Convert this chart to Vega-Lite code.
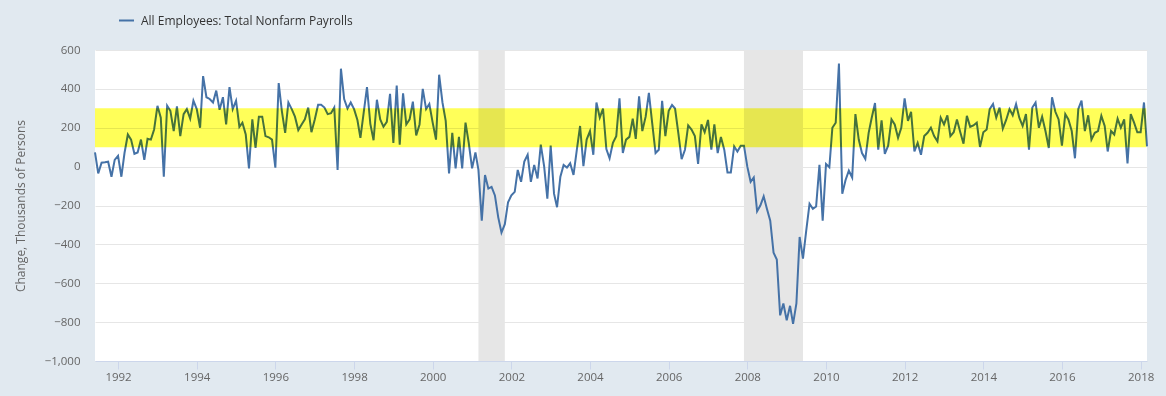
{
  "$schema": "https://vega.github.io/schema/vega-lite/v6.json",
  "autosize": "none",
  "width": 1052,
  "height": 311,
  "padding": {"left": 95, "top": 50, "right": 19, "bottom": 35},
  "background": "#e1e9f0",
  "view": {"fill": "#ffffff", "stroke": null},
  "config": {
    "font": "Open Sans",
    "axis": {"labelOverlap": false, "labelFont": "Open Sans", "labelColor": "#666666", "labelFontSize": 11.5, "titleFont": "Open Sans", "titleColor": "#666666", "titleFontSize": 12, "titleFontWeight": "normal"},
    "axisY": {"grid": true, "gridColor": "#e6e6e6", "domain": false, "ticks": false, "labelPadding": 15, "titlePadding": 17, "labelOverlap": false},
    "axisX": {"grid": false, "domainColor": "#ccd6eb", "tickColor": "#ccd6eb", "tickSize": 8, "labelPadding": 2}
  },
  "datasets": {
    "payrolls": [
      {"date":"1991-06-01","change":73},{"date":"1991-07-01","change":-35},{"date":"1991-08-01","change":20},{"date":"1991-09-01","change":22},{"date":"1991-10-01","change":25},{"date":"1991-11-01","change":-52},{"date":"1991-12-01","change":35},
      {"date":"1992-01-01","change":56},{"date":"1992-02-01","change":-52},{"date":"1992-03-01","change":70},{"date":"1992-04-01","change":165},{"date":"1992-05-01","change":139},{"date":"1992-06-01","change":66},{"date":"1992-07-01","change":73},{"date":"1992-08-01","change":139},{"date":"1992-09-01","change":35},{"date":"1992-10-01","change":143},{"date":"1992-11-01","change":139},{"date":"1992-12-01","change":191},
      {"date":"1993-01-01","change":313},{"date":"1993-02-01","change":252},{"date":"1993-03-01","change":-52},{"date":"1993-04-01","change":313},{"date":"1993-05-01","change":287},{"date":"1993-06-01","change":183},{"date":"1993-07-01","change":310},{"date":"1993-08-01","change":157},{"date":"1993-09-01","change":270},{"date":"1993-10-01","change":296},{"date":"1993-11-01","change":247},{"date":"1993-12-01","change":339},
      {"date":"1994-01-01","change":296},{"date":"1994-02-01","change":200},{"date":"1994-03-01","change":466},{"date":"1994-04-01","change":357},{"date":"1994-05-01","change":348},{"date":"1994-06-01","change":330},{"date":"1994-07-01","change":391},{"date":"1994-08-01","change":292},{"date":"1994-09-01","change":357},{"date":"1994-10-01","change":217},{"date":"1994-11-01","change":409},{"date":"1994-12-01","change":296},
      {"date":"1995-01-01","change":339},{"date":"1995-02-01","change":205},{"date":"1995-03-01","change":226},{"date":"1995-04-01","change":165},{"date":"1995-05-01","change":-9},{"date":"1995-06-01","change":243},{"date":"1995-07-01","change":96},{"date":"1995-08-01","change":257},{"date":"1995-09-01","change":257},{"date":"1995-10-01","change":157},{"date":"1995-11-01","change":151},{"date":"1995-12-01","change":139},
      {"date":"1996-01-01","change":-5},{"date":"1996-02-01","change":430},{"date":"1996-03-01","change":287},{"date":"1996-04-01","change":174},{"date":"1996-05-01","change":330},{"date":"1996-06-01","change":296},{"date":"1996-07-01","change":257},{"date":"1996-08-01","change":188},{"date":"1996-09-01","change":217},{"date":"1996-10-01","change":243},{"date":"1996-11-01","change":304},{"date":"1996-12-01","change":177},
      {"date":"1997-01-01","change":243},{"date":"1997-02-01","change":318},{"date":"1997-03-01","change":318},{"date":"1997-04-01","change":304},{"date":"1997-05-01","change":270},{"date":"1997-06-01","change":275},{"date":"1997-07-01","change":304},{"date":"1997-08-01","change":-17},{"date":"1997-09-01","change":504},{"date":"1997-10-01","change":348},{"date":"1997-11-01","change":299},{"date":"1997-12-01","change":330},
      {"date":"1998-01-01","change":296},{"date":"1998-02-01","change":240},{"date":"1998-03-01","change":148},{"date":"1998-04-01","change":280},{"date":"1998-05-01","change":409},{"date":"1998-06-01","change":220},{"date":"1998-07-01","change":136},{"date":"1998-08-01","change":344},{"date":"1998-09-01","change":243},{"date":"1998-10-01","change":205},{"date":"1998-11-01","change":230},{"date":"1998-12-01","change":374},
      {"date":"1999-01-01","change":122},{"date":"1999-02-01","change":417},{"date":"1999-03-01","change":113},{"date":"1999-04-01","change":377},{"date":"1999-05-01","change":217},{"date":"1999-06-01","change":243},{"date":"1999-07-01","change":334},{"date":"1999-08-01","change":160},{"date":"1999-09-01","change":217},{"date":"1999-10-01","change":400},{"date":"1999-11-01","change":296},{"date":"1999-12-01","change":322},
      {"date":"2000-01-01","change":226},{"date":"2000-02-01","change":139},{"date":"2000-03-01","change":473},{"date":"2000-04-01","change":330},{"date":"2000-05-01","change":235},{"date":"2000-06-01","change":-35},{"date":"2000-07-01","change":174},{"date":"2000-08-01","change":-9},{"date":"2000-09-01","change":153},{"date":"2000-10-01","change":-9},{"date":"2000-11-01","change":226},{"date":"2000-12-01","change":122},
      {"date":"2001-01-01","change":-9},{"date":"2001-02-01","change":73},{"date":"2001-03-01","change":-17},{"date":"2001-04-01","change":-278},{"date":"2001-05-01","change":-43},{"date":"2001-06-01","change":-113},{"date":"2001-07-01","change":-104},{"date":"2001-08-01","change":-148},{"date":"2001-09-01","change":-261},{"date":"2001-10-01","change":-339},{"date":"2001-11-01","change":-296},{"date":"2001-12-01","change":-183},
      {"date":"2002-01-01","change":-148},{"date":"2002-02-01","change":-130},{"date":"2002-03-01","change":-17},{"date":"2002-04-01","change":-78},{"date":"2002-05-01","change":26},{"date":"2002-06-01","change":61},{"date":"2002-07-01","change":-78},{"date":"2002-08-01","change":9},{"date":"2002-09-01","change":-61},{"date":"2002-10-01","change":113},{"date":"2002-11-01","change":3},{"date":"2002-12-01","change":-165},
      {"date":"2003-01-01","change":108},{"date":"2003-02-01","change":-139},{"date":"2003-03-01","change":-209},{"date":"2003-04-01","change":-52},{"date":"2003-05-01","change":9},{"date":"2003-06-01","change":-5},{"date":"2003-07-01","change":17},{"date":"2003-08-01","change":-43},{"date":"2003-09-01","change":87},{"date":"2003-10-01","change":209},{"date":"2003-11-01","change":3},{"date":"2003-12-01","change":139},
      {"date":"2004-01-01","change":183},{"date":"2004-02-01","change":61},{"date":"2004-03-01","change":330},{"date":"2004-04-01","change":252},{"date":"2004-05-01","change":299},{"date":"2004-06-01","change":90},{"date":"2004-07-01","change":43},{"date":"2004-08-01","change":122},{"date":"2004-09-01","change":157},{"date":"2004-10-01","change":351},{"date":"2004-11-01","change":70},{"date":"2004-12-01","change":139},
      {"date":"2005-01-01","change":153},{"date":"2005-02-01","change":247},{"date":"2005-03-01","change":143},{"date":"2005-04-01","change":362},{"date":"2005-05-01","change":183},{"date":"2005-06-01","change":257},{"date":"2005-07-01","change":379},{"date":"2005-08-01","change":223},{"date":"2005-09-01","change":70},{"date":"2005-10-01","change":87},{"date":"2005-11-01","change":339},{"date":"2005-12-01","change":157},
      {"date":"2006-01-01","change":287},{"date":"2006-02-01","change":317},{"date":"2006-03-01","change":299},{"date":"2006-04-01","change":170},{"date":"2006-05-01","change":38},{"date":"2006-06-01","change":87},{"date":"2006-07-01","change":212},{"date":"2006-08-01","change":191},{"date":"2006-09-01","change":157},{"date":"2006-10-01","change":14},{"date":"2006-11-01","change":217},{"date":"2006-12-01","change":177},
      {"date":"2007-01-01","change":240},{"date":"2007-02-01","change":87},{"date":"2007-03-01","change":217},{"date":"2007-04-01","change":70},{"date":"2007-05-01","change":153},{"date":"2007-06-01","change":87},{"date":"2007-07-01","change":-30},{"date":"2007-08-01","change":-30},{"date":"2007-09-01","change":104},{"date":"2007-10-01","change":78},{"date":"2007-11-01","change":108},{"date":"2007-12-01","change":108},
      {"date":"2008-01-01","change":0},{"date":"2008-02-01","change":-78},{"date":"2008-03-01","change":-56},{"date":"2008-04-01","change":-230},{"date":"2008-05-01","change":-200},{"date":"2008-06-01","change":-153},{"date":"2008-07-01","change":-217},{"date":"2008-08-01","change":-278},{"date":"2008-09-01","change":-443},{"date":"2008-10-01","change":-478},{"date":"2008-11-01","change":-765},{"date":"2008-12-01","change":-704},
      {"date":"2009-01-01","change":-791},{"date":"2009-02-01","change":-716},{"date":"2009-03-01","change":-809},{"date":"2009-04-01","change":-704},{"date":"2009-05-01","change":-362},{"date":"2009-06-01","change":-473},{"date":"2009-07-01","change":-330},{"date":"2009-08-01","change":-191},{"date":"2009-09-01","change":-217},{"date":"2009-10-01","change":-205},{"date":"2009-11-01","change":9},{"date":"2009-12-01","change":-278},
      {"date":"2010-01-01","change":14},{"date":"2010-02-01","change":-3},{"date":"2010-03-01","change":200},{"date":"2010-04-01","change":226},{"date":"2010-05-01","change":530},{"date":"2010-06-01","change":-139},{"date":"2010-07-01","change":-70},{"date":"2010-08-01","change":-21},{"date":"2010-09-01","change":-56},{"date":"2010-10-01","change":270},{"date":"2010-11-01","change":139},{"date":"2010-12-01","change":70},
      {"date":"2011-01-01","change":40},{"date":"2011-02-01","change":174},{"date":"2011-03-01","change":250},{"date":"2011-04-01","change":327},{"date":"2011-05-01","change":87},{"date":"2011-06-01","change":238},{"date":"2011-07-01","change":66},{"date":"2011-08-01","change":108},{"date":"2011-09-01","change":243},{"date":"2011-10-01","change":217},{"date":"2011-11-01","change":148},{"date":"2011-12-01","change":200},
      {"date":"2012-01-01","change":351},{"date":"2012-02-01","change":235},{"date":"2012-03-01","change":282},{"date":"2012-04-01","change":78},{"date":"2012-05-01","change":122},{"date":"2012-06-01","change":61},{"date":"2012-07-01","change":157},{"date":"2012-08-01","change":174},{"date":"2012-09-01","change":200},{"date":"2012-10-01","change":157},{"date":"2012-11-01","change":130},{"date":"2012-12-01","change":252},
      {"date":"2013-01-01","change":217},{"date":"2013-02-01","change":264},{"date":"2013-03-01","change":157},{"date":"2013-04-01","change":177},{"date":"2013-05-01","change":243},{"date":"2013-06-01","change":177},{"date":"2013-07-01","change":118},{"date":"2013-08-01","change":261},{"date":"2013-09-01","change":205},{"date":"2013-10-01","change":212},{"date":"2013-11-01","change":226},{"date":"2013-12-01","change":101},
      {"date":"2014-01-01","change":177},{"date":"2014-02-01","change":191},{"date":"2014-03-01","change":296},{"date":"2014-04-01","change":322},{"date":"2014-05-01","change":252},{"date":"2014-06-01","change":304},{"date":"2014-07-01","change":195},{"date":"2014-08-01","change":240},{"date":"2014-09-01","change":296},{"date":"2014-10-01","change":264},{"date":"2014-11-01","change":322},{"date":"2014-12-01","change":252},
      {"date":"2015-01-01","change":209},{"date":"2015-02-01","change":270},{"date":"2015-03-01","change":87},{"date":"2015-04-01","change":304},{"date":"2015-05-01","change":330},{"date":"2015-06-01","change":200},{"date":"2015-07-01","change":257},{"date":"2015-08-01","change":183},{"date":"2015-09-01","change":96},{"date":"2015-10-01","change":357},{"date":"2015-11-01","change":282},{"date":"2015-12-01","change":243},
      {"date":"2016-01-01","change":108},{"date":"2016-02-01","change":270},{"date":"2016-03-01","change":243},{"date":"2016-04-01","change":183},{"date":"2016-05-01","change":43},{"date":"2016-06-01","change":296},{"date":"2016-07-01","change":339},{"date":"2016-08-01","change":183},{"date":"2016-09-01","change":264},{"date":"2016-10-01","change":139},{"date":"2016-11-01","change":174},{"date":"2016-12-01","change":183},
      {"date":"2017-01-01","change":261},{"date":"2017-02-01","change":209},{"date":"2017-03-01","change":78},{"date":"2017-04-01","change":183},{"date":"2017-05-01","change":165},{"date":"2017-06-01","change":247},{"date":"2017-07-01","change":200},{"date":"2017-08-01","change":243},{"date":"2017-09-01","change":17},{"date":"2017-10-01","change":270},{"date":"2017-11-01","change":226},{"date":"2017-12-01","change":177},
      {"date":"2018-01-01","change":177},{"date":"2018-02-01","change":330},{"date":"2018-03-01","change":104}
    ],
    "recessions": [
      {"start":"2001-03-01","end":"2001-11-01"},
      {"start":"2007-12-01","end":"2009-06-01"}
    ],
    "band": [
      {"from":"1991-06-01","to":"2018-02-22","lo":100,"hi":300}
    ]
  },
  "encoding": {
    "y": {
      "type": "quantitative",
      "scale": {"domain": [-1000, 600], "nice": false, "zero": false},
      "axis": {
        "title": "Change, Thousands of Persons",
        "values": [-1000, -800, -600, -400, -200, 0, 200, 400, 600],
        "format": ",.0f",
        "labelOverlap": false
      }
    }
  },
  "layer": [
    {
      "data": {"name": "recessions"},
      "mark": {"type": "rect", "color": "#e6e6e6"},
      "encoding": {
        "x": {"field": "start", "type": "temporal"},
        "x2": {"field": "end"},
        "y": {"datum": 600, "type": "quantitative"},
        "y2": {"datum": -1000}
      }
    },
    {
      "data": {"name": "payrolls"},
      "mark": {"type": "line", "strokeWidth": 2},
      "encoding": {
        "x": {
          "field": "date", "type": "temporal",
          "scale": {"type": "utc", "domain": [{"year":1991,"month":6,"date":1,"utc":true},{"year":2018,"month":3,"date":1,"utc":true}]},
          "axis": {
            "title": null,
            "values": [
              {"year":1992,"month":1,"date":1,"utc":true},{"year":1994,"month":1,"date":1,"utc":true},{"year":1996,"month":1,"date":1,"utc":true},{"year":1998,"month":1,"date":1,"utc":true},{"year":2000,"month":1,"date":1,"utc":true},{"year":2002,"month":1,"date":1,"utc":true},{"year":2004,"month":1,"date":1,"utc":true},{"year":2006,"month":1,"date":1,"utc":true},{"year":2008,"month":1,"date":1,"utc":true},{"year":2010,"month":1,"date":1,"utc":true},{"year":2012,"month":1,"date":1,"utc":true},{"year":2014,"month":1,"date":1,"utc":true},{"year":2016,"month":1,"date":1,"utc":true},{"year":2018,"month":1,"date":1,"utc":true}
            ],
            "format": "%Y"
          }
        },
        "y": {"field": "change", "type": "quantitative"},
        "color": {
          "datum": "All Employees: Total Nonfarm Payrolls",
          "scale": {"range": ["#4572a7"]},
          "legend": {
            "title": null,
            "orient": "none",
            "legendX": 23,
            "legendY": -38,
            "padding": 0,
            "symbolType": "stroke",
            "symbolStrokeWidth": 2,
            "symbolSize": 225,
            "labelFontSize": 12,
            "labelColor": "#333333",
            "labelFont": "Open Sans",
            "labelOffset": 6,
            "labelLimit": 500
          }
        }
      }
    },
    {
      "data": {"name": "band"},
      "mark": {"type": "rect", "color": "#ffff00", "opacity": 0.65, "blend": "multiply"},
      "encoding": {
        "x": {"field": "from", "type": "temporal"},
        "x2": {"field": "to"},
        "y": {"field": "lo", "type": "quantitative"},
        "y2": {"field": "hi"}
      }
    },
    {
      "mark": {"type": "rule", "color": "#000000", "strokeWidth": 2},
      "encoding": {"y": {"datum": 0, "type": "quantitative"}}
    }
  ]
}
